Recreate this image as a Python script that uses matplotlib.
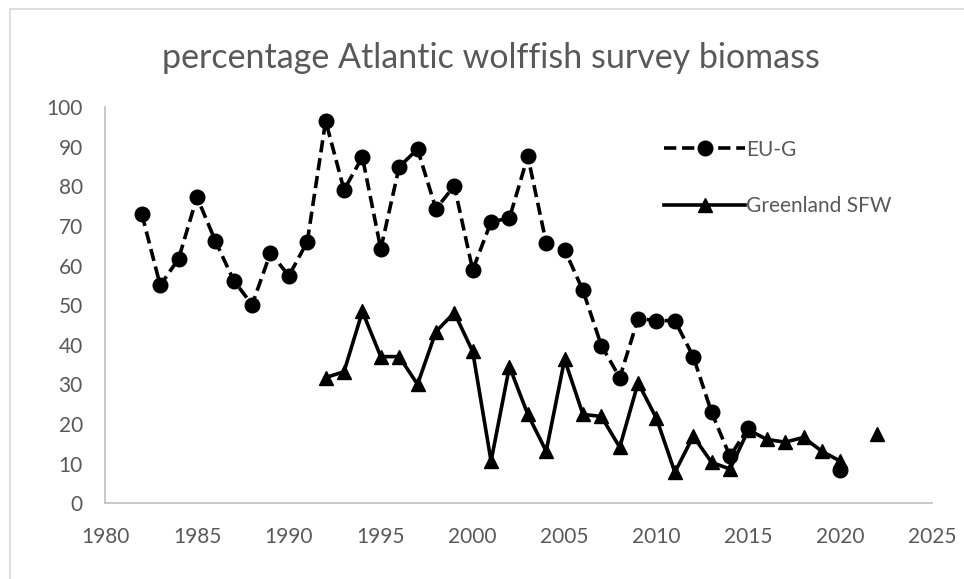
"""
Atlantic wolffish survey biomass, share by survey (EU-G vs Greenland SFW).
"""

import numpy as np
import matplotlib

matplotlib.use("Agg")
import matplotlib.pyplot as plt
from matplotlib.patches import Rectangle

plt.rcParams["font.family"] = ["Lato", "DejaVu Sans"]

TEXT_GREY = "#595959"
AXIS_GREY = "#bfbfbf"

# EU-G survey (no values 2016-2019)
eug_years = [1982, 1983, 1984, 1985, 1986, 1987, 1988, 1989, 1990, 1991,
             1992, 1993, 1994, 1995, 1996, 1997, 1998, 1999, 2000, 2001,
             2002, 2003, 2004, 2005, 2006, 2007, 2008, 2009, 2010, 2011,
             2012, 2013, 2014, 2015, 2016, 2017, 2018, 2019, 2020]
eug_values = [73.0, 55.0, 61.7, 77.3, 66.2, 56.2, 50.1, 63.2, 57.4, 66.0,
              96.5, 79.1, 87.4, 64.2, 84.9, 89.4, 74.3, 80.1, 58.9, 71.0,
              72.0, 87.6, 65.7, 64.0, 53.7, 39.8, 31.7, 46.6, 46.1, 46.1,
              37.0, 22.9, 11.8, 19.1, np.nan, np.nan, np.nan, np.nan, 8.3]

# Greenland SFW survey (no value 2021)
sfw_years = [1992, 1993, 1994, 1995, 1996, 1997, 1998, 1999, 2000, 2001,
             2002, 2003, 2004, 2005, 2006, 2007, 2008, 2009, 2010, 2011,
             2012, 2013, 2014, 2015, 2016, 2017, 2018, 2019, 2020, 2021,
             2022]
sfw_values = [31.7, 33.2, 48.4, 37.0, 37.0, 30.0, 43.3, 48.1, 38.3, 10.6,
              34.5, 22.4, 13.1, 36.3, 22.4, 21.9, 14.1, 30.4, 21.4, 7.8,
              16.9, 10.3, 8.6, 18.5, 16.1, 15.4, 16.6, 13.1, 10.6, np.nan,
              17.4]

x_ticks = np.arange(1980, 2026, 5)
y_ticks = np.arange(0, 101, 10)

fig = plt.figure(figsize=(9.64, 5.79), dpi=100)
ax = fig.add_axes([0.109, 0.131, 0.858, 0.684])

ax.plot(sfw_years, sfw_values, color="black", lw=2.6, marker="^",
        markersize=10, label="Greenland SFW", zorder=3)
ax.plot(eug_years, eug_values, color="black", lw=2.6, linestyle=(0, (3.4, 1.6)),
        marker="o", markersize=10.5, label="EU-G", zorder=4)

ax.set_xlim(1980, 2025)
ax.set_ylim(0, 100)
ax.set_xticks(x_ticks)
ax.set_yticks(y_ticks)
ax.tick_params(length=0, labelsize=15, labelcolor=TEXT_GREY)
ax.tick_params(axis="x", pad=17)
ax.tick_params(axis="y", pad=16)

for side in ("top", "right"):
    ax.spines[side].set_visible(False)
for side in ("left", "bottom"):
    ax.spines[side].set_color(AXIS_GREY)
    ax.spines[side].set_linewidth(1.2)

handles, labels = ax.get_legend_handles_labels()
leg = ax.legend(handles[::-1], labels[::-1], loc="upper left",
                bbox_to_anchor=(0.653, 0.965), frameon=False, fontsize=15,
                handlelength=3.9, labelspacing=1.75, handletextpad=0.05)
for txt in leg.get_texts():
    txt.set_color(TEXT_GREY)

fig.text(0.509, 0.9, "percentage Atlantic wolffish survey biomass",
         ha="center", va="center", fontsize=24.5, color=TEXT_GREY)

# chart frame
fig.patches.append(Rectangle((10 / 964, -0.1), 1.2, 1 - 9 / 579 + 0.1,
                             transform=fig.transFigure, fill=False,
                             edgecolor="#d9d9d9", lw=1.2))

fig.savefig("out.png", dpi=100)
